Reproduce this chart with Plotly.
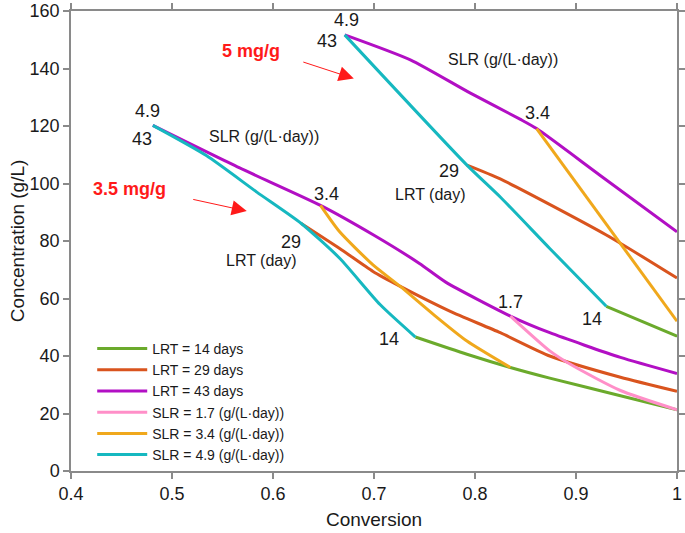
import plotly.graph_objects as go

# ---- data ----
# LRT = 14 days (two operating groups: 3.5 mg/g and 5 mg/g)
lrt14_lo_x = [0.741, 0.792, 0.835, 0.874, 0.944, 1.0]
lrt14_lo_y = [46.6, 40.6, 36.0, 32.3, 26.2, 21.3]
lrt14_hi_x = [0.930, 1.0]
lrt14_hi_y = [57.3, 46.9]

# LRT = 29 days
lrt29_lo_x = [0.628, 0.666, 0.699, 0.726, 0.775, 0.825, 0.874, 0.944, 1.0]
lrt29_lo_y = [86.1, 77.4, 69.4, 64.2, 55.6, 48.1, 40.0, 32.6, 27.7]
lrt29_hi_x = [0.792, 0.825, 0.930, 1.0]
lrt29_hi_y = [106.4, 101.6, 82.1, 67.1]

# LRT = 43 days
lrt43_lo_x = [0.481, 0.567, 0.647, 0.700, 0.745, 0.771, 0.835, 0.874, 0.944, 1.0]
lrt43_lo_y = [120.2, 105.4, 92.4, 82.0, 72.2, 65.7, 53.9, 48.1, 39.5, 33.9]
lrt43_hi_x = [0.671, 0.736, 0.795, 0.845, 0.861, 0.924, 1.0]
lrt43_hi_y = [151.7, 143.0, 131.5, 122.3, 119.1, 102.8, 83.2]

# SLR = 1.7 g/(L.day)
slr17_x = [0.835, 0.874, 0.897, 0.944, 1.0]
slr17_y = [53.9, 41.8, 36.6, 28.0, 21.3]

# SLR = 3.4 g/(L.day)
slr34_lo_x = [0.647, 0.666, 0.699, 0.726, 0.759, 0.792, 0.835]
slr34_lo_y = [92.4, 83.2, 71.7, 64.2, 54.4, 45.2, 36.0]
slr34_hi_x = [0.861, 1.0]
slr34_hi_y = [119.1, 52.1]

# SLR = 4.9 g/(L.day)
slr49_lo_x = [0.481, 0.534, 0.584, 0.628, 0.666, 0.706, 0.741]
slr49_lo_y = [120.2, 109.7, 97.0, 86.1, 74.0, 57.9, 46.6]
slr49_hi_x = [0.671, 0.792, 0.825, 0.874, 0.930]
slr49_hi_y = [151.7, 106.4, 95.3, 77.4, 57.3]

x_ticks = [0.4, 0.5, 0.6, 0.7, 0.8, 0.9, 1.0]
x_tick_labels = ["0.4", "0.5", "0.6", "0.7", "0.8", "0.9", "1"]
y_ticks = [0, 20, 40, 60, 80, 100, 120, 140, 160]

series = [
    ("LRT = 14 days", "#6BAA2C", [(lrt14_lo_x, lrt14_lo_y), (lrt14_hi_x, lrt14_hi_y)]),
    ("LRT = 29 days", "#D9541E", [(lrt29_lo_x, lrt29_lo_y), (lrt29_hi_x, lrt29_hi_y)]),
    ("LRT = 43 days", "#B20FC4", [(lrt43_lo_x, lrt43_lo_y), (lrt43_hi_x, lrt43_hi_y)]),
    ("SLR = 1.7 (g/(L·day))", "#FF8FC8", [(slr17_x, slr17_y)]),
    ("SLR = 3.4 (g/(L·day))", "#F0A81C", [(slr34_lo_x, slr34_lo_y), (slr34_hi_x, slr34_hi_y)]),
    ("SLR = 4.9 (g/(L·day))", "#16B8C0", [(slr49_lo_x, slr49_lo_y), (slr49_hi_x, slr49_hi_y)]),
]

FONT = "Liberation Sans, Arial, sans-serif"

fig = go.Figure()
for name, color, segs in series:
    xs, ys = [], []
    for sx, sy in segs:
        if xs:
            xs.append(None)
            ys.append(None)
        xs.extend(sx)
        ys.extend(sy)
    fig.add_trace(go.Scatter(x=xs, y=ys, mode="lines", name=name, hoverinfo="skip",
                             line=dict(color=color, width=3, shape="spline", smoothing=0.6)))

def label(x, y, text, size=18, color="#1a1a1a", bold=False):
    t = f"<b>{text}</b>" if bold else text
    return dict(x=x, y=y, xref="x", yref="y", text=t, showarrow=False,
                font=dict(family=FONT, size=size, color=color))

annotations = [
    label(0.476, 125.2, "4.9"),
    label(0.470, 115.6, "43"),
    label(0.591, 116.4, "SLR (g/(L·day))", size=16),
    label(0.458, 98.0, "3.5 mg/g", size=18, color="#FF1A1A", bold=True),
    label(0.653, 96.5, "3.4"),
    label(0.618, 79.7, "29"),
    label(0.589, 73.2, "LRT (day)", size=16),
    label(0.715, 45.9, "14"),
    label(0.835, 58.7, "1.7"),
    label(0.673, 157.0, "4.9"),
    label(0.653, 149.7, "43"),
    label(0.578, 146.2, "5 mg/g", size=18, color="#FF1A1A", bold=True),
    label(0.828, 143.3, "SLR (g/(L·day))", size=16),
    label(0.862, 124.6, "3.4"),
    label(0.774, 104.3, "29"),
    label(0.756, 96.3, "LRT (day)", size=16),
    label(0.916, 52.8, "14"),
    dict(x=0.574, y=90.4, xref="x", yref="y", text="", showarrow=True,
         ax=-55, ay=-12, arrowhead=2, arrowsize=3, arrowwidth=1, arrowcolor="#FF1A1A"),
    dict(x=0.680, y=136.5, xref="x", yref="y", text="", showarrow=True,
         ax=-52, ay=-17, arrowhead=2, arrowsize=3, arrowwidth=1, arrowcolor="#FF1A1A"),
]

axis_common = dict(showline=True, linecolor="#8a8a8a", linewidth=1.5, mirror="ticks",
                   ticks="outside", ticklen=6, tickcolor="#8a8a8a", tickwidth=1.5,
                   showgrid=False, zeroline=False, automargin=False,
                   ticklabeloverflow="allow",
                   tickfont=dict(family=FONT, size=18, color="#1a1a1a"))

fig.update_layout(
    width=685, height=533,
    margin=dict(l=71, r=8, t=11, b=62),
    paper_bgcolor="white", plot_bgcolor="white",
    font=dict(family=FONT, color="#1a1a1a"),
    xaxis=dict(range=[0.4, 1.0], tickvals=x_ticks, ticktext=x_tick_labels,
               title=dict(text="Conversion", font=dict(family=FONT, size=19), standoff=9),
               **axis_common),
    yaxis=dict(range=[0, 160], tickvals=y_ticks,
               title=dict(text="Concentration (g/L)", font=dict(family=FONT, size=19), standoff=0),
               **axis_common),
    legend=dict(x=0.035, y=0.30, xanchor="left", yanchor="top",
                bgcolor="rgba(0,0,0,0)", font=dict(family=FONT, size=14, color="#1a1a1a"),
                tracegroupgap=0, itemwidth=50),
    annotations=annotations,
    showlegend=True,
    hovermode=False,
)

fig.write_html("out.html", config={"displayModeBar": False},
               post_script="document.body.style.margin='0px';document.body.style.overflow='hidden';")
